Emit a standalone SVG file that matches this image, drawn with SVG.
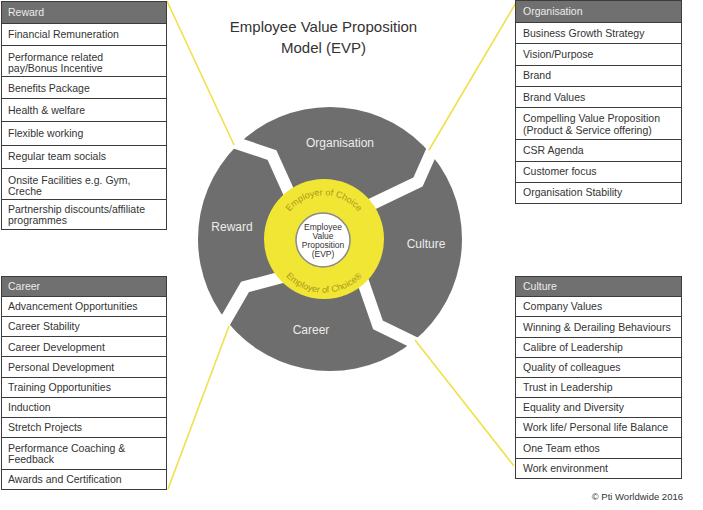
<svg xmlns="http://www.w3.org/2000/svg" width="703" height="510" viewBox="0 0 703 510">
<style>
.seg{fill:#6e6e6e}
.seglbl{font-family:"Liberation Sans",Arial,sans-serif;font-size:12px;fill:#ececec;text-anchor:middle}
.cell{fill:#fff;stroke:#3c3c3c;stroke-width:1}
.hdr{fill:#707070;stroke:#3c3c3c;stroke-width:1}
.ct{font-family:"Liberation Sans",Arial,sans-serif;font-size:10.5px;fill:#333}
.ht{font-family:"Liberation Sans",Arial,sans-serif;font-size:10.5px;fill:#ececec}
.conn{stroke:#f0e14a;stroke-width:1.6;fill:none}
.arc{font-family:"Liberation Sans",Arial,sans-serif;font-size:9px;fill:#a6981f}
.core{font-family:"Liberation Sans",Arial,sans-serif;font-size:8.5px;fill:#333;text-anchor:middle}
.title{font-family:"Liberation Sans",Arial,sans-serif;font-size:15px;fill:#333;text-anchor:middle}
</style>
<defs>
<mask id="gapMask" maskUnits="userSpaceOnUse" x="0" y="0" width="703" height="510">
<rect x="0" y="0" width="703" height="510" fill="#fff"/>
<g fill="none" stroke="#000" stroke-width="12" stroke-linejoin="miter">
<polyline points="200,131 272,155 290,195"/>
<polyline points="442,128 418,182 370,205"/>
<polyline points="448,359 378,325 361,276"/>
<polyline points="209,349 245,287 290,275"/>
</g>
</mask>
<clipPath id="clipOrg"><polygon points="324,239 290,195 272,155 200,131 100,-100 600,-100 442,128 418,182 370,205"/></clipPath>
<clipPath id="clipCul"><polygon points="324,239 370,205 418,182 442,128 700,100 700,500 448,359 378,325 361,276"/></clipPath>
<clipPath id="clipCar"><polygon points="324,239 361,276 378,325 448,359 600,600 100,600 209,349 245,287 290,275"/></clipPath>
<clipPath id="clipRew"><polygon points="324,239 290,275 245,287 209,349 50,450 50,50 200,131 272,155 290,195"/></clipPath>
<path id="arcTop" d="M 282.6 224.3 A 44 44 0 0 1 365.4 224.3"/>
<path id="arcBot" d="M 278 266 A 53 53 0 0 0 370 266"/>
</defs>
<rect x="0" y="0" width="703" height="510" fill="#fff"/>

<g id="title">
<text class="title" x="323.5" y="32">Employee Value Proposition</text>
<text class="title" x="323.5" y="53">Model (EVP)</text>
</g>

<g id="connectors">
<line class="conn" x1="167" y1="1" x2="234" y2="145"/>
<line class="conn" x1="517" y1="1" x2="429" y2="150"/>
<line class="conn" x1="415" y1="340" x2="514" y2="466"/>
<line class="conn" x1="229" y1="326" x2="168" y2="489"/>
</g>

<g id="seg-organisation">
<circle class="seg" cx="330" cy="239" r="132" clip-path="url(#clipOrg)" mask="url(#gapMask)"/>
<text class="seglbl" x="340" y="147">Organisation</text>
</g>
<g id="seg-culture">
<circle class="seg" cx="330" cy="239" r="132" clip-path="url(#clipCul)" mask="url(#gapMask)"/>
<text class="seglbl" x="426" y="248">Culture</text>
</g>
<g id="seg-career">
<circle class="seg" cx="330" cy="239" r="132" clip-path="url(#clipCar)" mask="url(#gapMask)"/>
<text class="seglbl" x="311" y="334">Career</text>
</g>
<g id="seg-reward">
<circle class="seg" cx="330" cy="239" r="132" clip-path="url(#clipRew)" mask="url(#gapMask)"/>
<text class="seglbl" x="232" y="231">Reward</text>
</g>

<g id="employer-of-choice">
<circle cx="324" cy="239" r="60" fill="#f2e634"/>
<text class="arc" text-anchor="middle"><textPath href="#arcTop" startOffset="50%">Employer of Choice</textPath></text>
<text class="arc" text-anchor="middle"><textPath href="#arcBot" startOffset="50%">Employer of Choice®</textPath></text>
</g>

<g id="evp-core">
<circle cx="323" cy="240" r="27" fill="#fff" stroke="#8a8a8a" stroke-width="1.5"/>
<text class="core" x="323" y="230">Employee</text>
<text class="core" x="323" y="239">Value</text>
<text class="core" x="323" y="248">Proposition</text>
<text class="core" x="323" y="257">(EVP)</text>
</g>

<g id="table-reward">
<rect class="hdr" x="1.5" y="1.5" width="165" height="22"/>
<rect class="cell" x="1.5" y="23.5" width="165" height="22"/>
<rect class="cell" x="1.5" y="45.5" width="165" height="31"/>
<rect class="cell" x="1.5" y="76.5" width="165" height="22"/>
<rect class="cell" x="1.5" y="98.5" width="165" height="23"/>
<rect class="cell" x="1.5" y="121.5" width="165" height="24"/>
<rect class="cell" x="1.5" y="145.5" width="165" height="23"/>
<rect class="cell" x="1.5" y="168.5" width="165" height="31"/>
<rect class="cell" x="1.5" y="199.5" width="165" height="30"/>
<text class="ht" x="8" y="16">Reward</text>
<text class="ct" x="8" y="38">Financial Remuneration</text>
<text class="ct" x="8" y="61">Performance related</text>
<text class="ct" x="8" y="72">pay/Bonus Incentive</text>
<text class="ct" x="8" y="92">Benefits Package</text>
<text class="ct" x="8" y="113.5">Health &amp; welfare</text>
<text class="ct" x="8" y="136.5">Flexible working</text>
<text class="ct" x="8" y="160">Regular team socials</text>
<text class="ct" x="8" y="184">Onsite Facilities e.g. Gym,</text>
<text class="ct" x="8" y="195">Creche</text>
<text class="ct" x="8" y="212.5">Partnership discounts/affiliate</text>
<text class="ct" x="8" y="224">programmes</text>
</g>

<g id="table-organisation">
<rect class="hdr" x="515.5" y="0.5" width="166" height="22"/>
<rect class="cell" x="515.5" y="22.5" width="166" height="21"/>
<rect class="cell" x="515.5" y="43.5" width="166" height="22"/>
<rect class="cell" x="515.5" y="65.5" width="166" height="21"/>
<rect class="cell" x="515.5" y="86.5" width="166" height="21"/>
<rect class="cell" x="515.5" y="107.5" width="166" height="32"/>
<rect class="cell" x="515.5" y="139.5" width="166" height="22"/>
<rect class="cell" x="515.5" y="161.5" width="166" height="21"/>
<rect class="cell" x="515.5" y="182.5" width="166" height="21"/>
<text class="ht" x="523" y="14.5">Organisation</text>
<text class="ct" x="523" y="37">Business Growth Strategy</text>
<text class="ct" x="523" y="57.5">Vision/Purpose</text>
<text class="ct" x="523" y="79">Brand</text>
<text class="ct" x="523" y="100.5">Brand Values</text>
<text class="ct" x="523" y="122">Compelling Value Proposition</text>
<text class="ct" x="523" y="133.5">(Product &amp; Service offering)</text>
<text class="ct" x="523" y="153.5">CSR Agenda</text>
<text class="ct" x="523" y="175">Customer focus</text>
<text class="ct" x="523" y="196">Organisation Stability</text>
</g>

<g id="table-career">
<rect class="hdr" x="1.5" y="276.5" width="165" height="20"/>
<rect class="cell" x="1.5" y="296.5" width="165" height="20"/>
<rect class="cell" x="1.5" y="316.5" width="165" height="20"/>
<rect class="cell" x="1.5" y="336.5" width="165" height="20"/>
<rect class="cell" x="1.5" y="356.5" width="165" height="21"/>
<rect class="cell" x="1.5" y="377.5" width="165" height="20"/>
<rect class="cell" x="1.5" y="397.5" width="165" height="20"/>
<rect class="cell" x="1.5" y="417.5" width="165" height="20"/>
<rect class="cell" x="1.5" y="437.5" width="165" height="32"/>
<rect class="cell" x="1.5" y="469.5" width="165" height="20"/>
<text class="ht" x="8" y="289.5">Career</text>
<text class="ct" x="8" y="309.5">Advancement Opportunities</text>
<text class="ct" x="8" y="330">Career Stability</text>
<text class="ct" x="8" y="350.5">Career Development</text>
<text class="ct" x="8" y="370.5">Personal Development</text>
<text class="ct" x="8" y="391">Training Opportunities</text>
<text class="ct" x="8" y="411">Induction</text>
<text class="ct" x="8" y="431">Stretch Projects</text>
<text class="ct" x="8" y="451.5">Performance Coaching &amp;</text>
<text class="ct" x="8" y="463">Feedback</text>
<text class="ct" x="8" y="483">Awards and Certification</text>
</g>

<g id="table-culture">
<rect class="hdr" x="515.5" y="276.5" width="166" height="20"/>
<rect class="cell" x="515.5" y="296.5" width="166" height="20"/>
<rect class="cell" x="515.5" y="316.5" width="166" height="21"/>
<rect class="cell" x="515.5" y="337.5" width="166" height="20"/>
<rect class="cell" x="515.5" y="357.5" width="166" height="20"/>
<rect class="cell" x="515.5" y="377.5" width="166" height="20"/>
<rect class="cell" x="515.5" y="397.5" width="166" height="20"/>
<rect class="cell" x="515.5" y="417.5" width="166" height="20"/>
<rect class="cell" x="515.5" y="437.5" width="166" height="21"/>
<rect class="cell" x="515.5" y="458.5" width="166" height="20"/>
<text class="ht" x="523" y="289.5">Culture</text>
<text class="ct" x="523" y="309.5">Company Values</text>
<text class="ct" x="523" y="330.5">Winning &amp; Derailing Behaviours</text>
<text class="ct" x="523" y="351">Calibre of Leadership</text>
<text class="ct" x="523" y="371">Quality of colleagues</text>
<text class="ct" x="523" y="391">Trust in Leadership</text>
<text class="ct" x="523" y="411">Equality and Diversity</text>
<text class="ct" x="523" y="431">Work life/ Personal life Balance</text>
<text class="ct" x="523" y="451.5">One Team ethos</text>
<text class="ct" x="523" y="472">Work environment</text>
</g>

<g id="copyright">
<text class="ct" x="683" y="499.5" text-anchor="end" style="font-size:9.5px">© Pti Worldwide 2016</text>
</g>
</svg>
